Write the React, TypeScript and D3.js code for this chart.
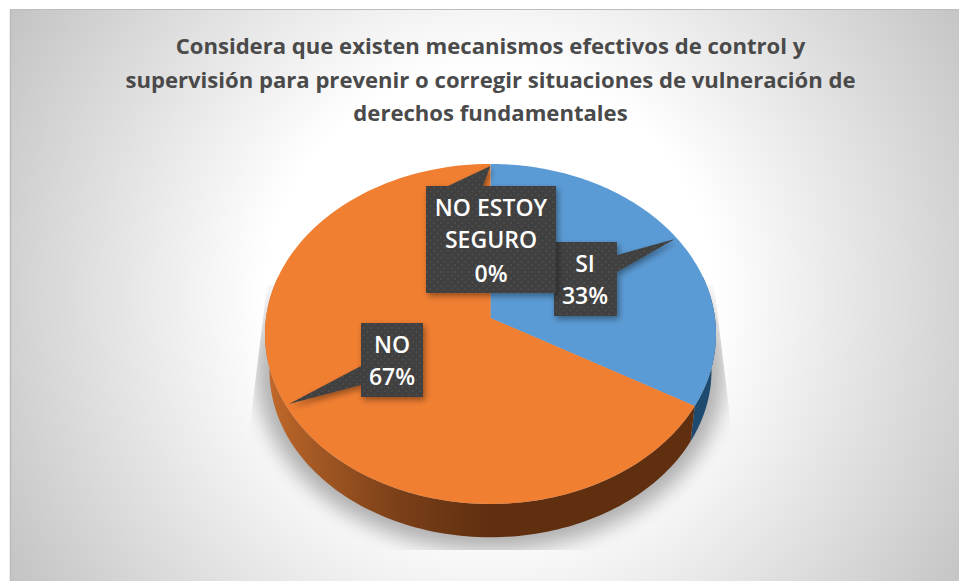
import React from "react";
import * as d3 from "d3";

const WIDTH = 959;
const HEIGHT = 581;

const titleLines = [
  "Considera que existen mecanismos efectivos de control y",
  "supervisión para prevenir o corregir situaciones de vulneración de",
  "derechos fundamentales",
];
const categories = ["SI", "NO", "NO ESTOY SEGURO"];
const values = [33.3, 66.7, 0];
const topColors = ["#5b9bd5", "#f17f32", "#a5a5a5"];
const labelLines = [["SI"], ["NO"], ["NO ESTOY", "SEGURO"]];

// Perspective of the tilted pie
const cx = 490.5;
const cy = 318;
const radiusX = 224.5;
const radiusY = 168.5;
const persp = 0.094;
const lowerScale = 0.98;
const lowerDrop = 37;

const project = (theta: number, lower = false): [number, number] => {
  const u = Math.sin(theta);
  const v = -Math.cos(theta);
  const s = 1 / (1 - persp * v);
  const k = lower ? lowerScale : 1;
  return [cx + radiusX * u * s * k, cy + (lower ? lowerDrop : 0) + radiusY * v * s * k];
};

const pieGen = d3.pie<number>().sort(null).value((d) => d);
const arcs = pieGen(values);
const lineGen = d3.line();
const samples = (a: number, b: number) => d3.range(0, 121).map((i) => a + ((b - a) * i) / 120);

const topPath = (a: number, b: number) =>
  lineGen([[cx, cy], ...samples(a, b).map((t) => project(t))])! + "Z";
const wallPath = (a: number, b: number) =>
  lineGen([
    ...samples(a, b).map((t) => project(t)),
    ...samples(a, b).reverse().map((t) => project(t, true)),
  ])! + "Z";

const wallRange = (a: number, b: number): [number, number] => [
  Math.max(a, Math.PI * 0.42),
  Math.min(b, Math.PI * 1.58),
];

const pct = d3.format(".0%");
const total = d3.sum(values);

type Box = { x: number; y: number; w: number; h: number; tip: [number, number]; base: [number, number]; side: "top" | "right" | "left"; cxText: number; baselines: number[] };
const boxes: Box[] = [
  { x: 554, y: 242, w: 63, h: 74, tip: [675, 239], base: [255, 272], side: "right", cxText: 585, baselines: [272, 304] },
  { x: 361, y: 323, w: 62, h: 74, tip: [289, 404], base: [366, 385], side: "left", cxText: 392, baselines: [353, 385] },
  { x: 426, y: 186, w: 130, h: 107, tip: [490.5, 166], base: [448, 483], side: "top", cxText: 491, baselines: [216, 248, 282] },
];

const calloutPath = (b: Box) => {
  const r = b.x + b.w;
  const bt = b.y + b.h;
  const pts: [number, number][] =
    b.side === "top"
      ? [[b.x, b.y], [b.base[0], b.y], b.tip, [b.base[1], b.y], [r, b.y], [r, bt], [b.x, bt]]
      : b.side === "right"
      ? [[b.x, b.y], [r, b.y], [r, b.base[0]], b.tip, [r, b.base[1]], [r, bt], [b.x, bt]]
      : [[b.x, b.y], [r, b.y], [r, bt], [b.x, bt], [b.x, b.base[1]], b.tip, [b.x, b.base[0]]];
  return lineGen(pts)! + "Z";
};

const shadowClipPoints = "267,285 250,425 250,550 731,550 731,425 714,285";

export default function App() {
  return (
    <svg width={WIDTH} height={HEIGHT} style={{ position: "absolute", left: 0, top: 0, display: "block" }}>
      <defs>
        <radialGradient id="bg" gradientUnits="userSpaceOnUse" cx={490} cy={295} r={560}>
          <stop offset="0.4" stopColor="#ffffff" />
          <stop offset="1" stopColor="#c3c3c3" />
        </radialGradient>
        <linearGradient id="wallOrange" gradientUnits="userSpaceOnUse" x1={265} x2={716} y1={0} y2={0}>
          <stop offset="0" stopColor="#c4692a" />
          <stop offset="0.1" stopColor="#a65a24" />
          <stop offset="0.3" stopColor="#7a3f18" />
          <stop offset="0.5" stopColor="#5f2f10" />
          <stop offset="1" stopColor="#5f2f10" />
        </linearGradient>
        <filter id="blurShadow" x="-20%" y="-20%" width="140%" height="140%">
          <feGaussianBlur stdDeviation="10" />
        </filter>
        <filter id="boxShadow" x="-20%" y="-20%" width="150%" height="150%">
          <feDropShadow dx="2" dy="3" stdDeviation="3" floodColor="#000" floodOpacity="0.4" />
        </filter>
        <clipPath id="shadowClip">
          <polygon points={shadowClipPoints} />
        </clipPath>
        <pattern id="dots" width={7} height={7} patternUnits="userSpaceOnUse" x={2} y={1}>
          <rect width={7} height={7} fill="#404040" />
          <circle cx={1.5} cy={1.5} r={1} fill="#4e4e4e" />
          <circle cx={5} cy={5} r={1} fill="#4e4e4e" />
        </pattern>
      </defs>

      <rect x={10} y={9} width={WIDTH - 10} height={HEIGHT - 9} fill="url(#bg)" />
      <line x1={10} x2={WIDTH} y1={9.5} y2={9.5} stroke="#bdbdbd" strokeWidth={1} />
      <line x1={10.5} x2={10.5} y1={9} y2={HEIGHT} stroke="#bbbbbb" strokeWidth={1.5} />

      {titleLines.map((t, i) => (
        <text
          key={t}
          x={490.5}
          y={[54, 88, 121][i]}
          textAnchor="middle"
          fontFamily="'Open Sans', sans-serif"
          fontWeight={700}
          fontSize={22.1}
          fill="#4a4a4a"
        >
          {t}
        </text>
      ))}

      <g clipPath="url(#shadowClip)">
        <path
          d={lineGen(samples(0, Math.PI * 2).map((t) => project(t, true)))! + "Z"}
          fill="#000"
          stroke="#000"
          strokeWidth={26}
          opacity={0.3}
          filter="url(#blurShadow)"
        />
      </g>

      {arcs.map((a, i) => {
        const [s, e] = wallRange(a.startAngle, a.endAngle);
        if (e <= s) return null;
        return (
          <path
            key={"w" + categories[i]}
            d={wallPath(s, e)}
            fill={i === 1 ? "url(#wallOrange)" : "#1f4a70"}
          />
        );
      })}
      {arcs.map((a, i) =>
        a.endAngle > a.startAngle ? (
          <path key={"t" + categories[i]} d={topPath(a.startAngle, a.endAngle)} fill={topColors[i]} />
        ) : null
      )}

      {boxes.map((b, i) => (
        <g key={categories[i]}>
          <path d={calloutPath(b)} fill="url(#dots)" filter="url(#boxShadow)" />
          {[...labelLines[i], pct(values[i] / total)].map((t, j) => (
            <text
              key={j}
              x={b.cxText}
              y={b.baselines[j]}
              textAnchor="middle"
              fontFamily="'Open Sans', sans-serif"
              fontWeight={600}
              fontSize={23}
              fill="#ffffff"
            >
              {t}
            </text>
          ))}
        </g>
      ))}
    </svg>
  );
}
